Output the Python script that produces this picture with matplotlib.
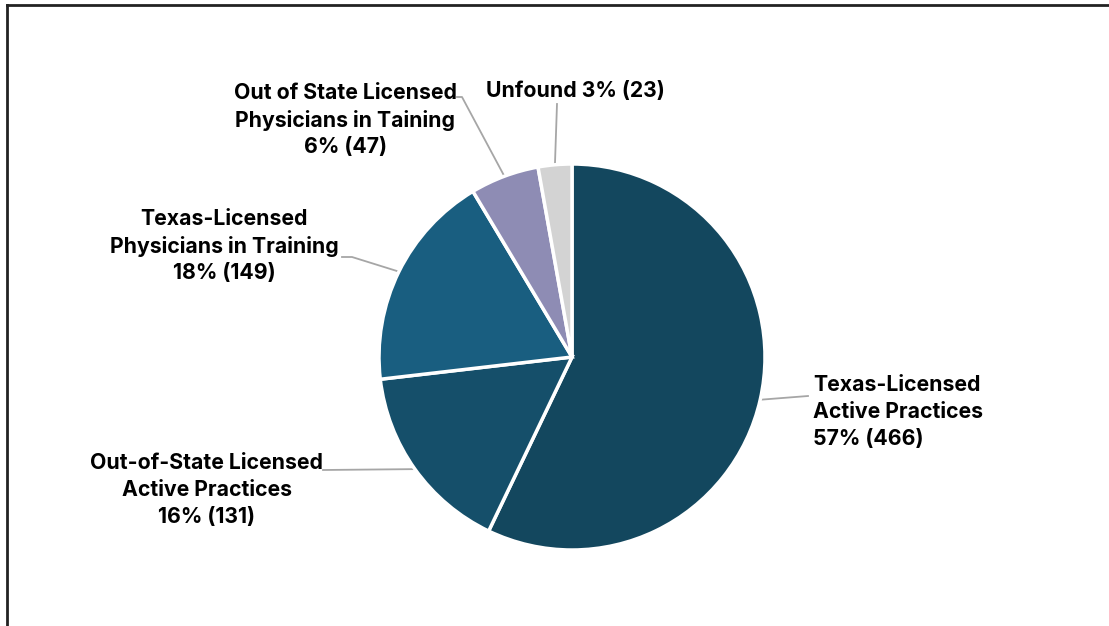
import numpy as np
import matplotlib.pyplot as plt
from matplotlib.lines import Line2D

plt.rcParams['font.family'] = ['Inter', 'DejaVu Sans']

W, H = 1109, 626

labels = [
    "Texas-Licensed\nActive Practices",
    "Out-of-State Licensed\nActive Practices",
    "Texas-Licensed\nPhysicians in Training",
    "Out of State Licensed\nPhysicians in Taining",
    "Unfound",
]
counts = [466, 131, 149, 47, 23]
pcts = [57, 16, 18, 6, 3]
colors = ["#13475E", "#154F6A", "#195E80", "#8E8CB4", "#D3D3D3"]

# label anchor (pixel coords from top-left), alignment, elbow points of leader
label_pos = [(813, 412, "left"), (207, 490, "center"), (224, 246, "center"),
             (345, 120, "center"), (575, 91, "center")]
elbows = [[(808, 396)], [(323, 470)], [(352, 257), (342, 257)],
          [(462, 97), (457, 97)], [(557, 104)]]

cx, cy, r = 572, 357, 193

fig = plt.figure(figsize=(W / 100, H / 100), dpi=100)
ax = fig.add_axes([0, 0, 1, 1])

wedges, _ = ax.pie(counts, colors=colors, startangle=90, counterclock=False,
                   center=(cx, H - cy), radius=r, frame=True,
                   wedgeprops=dict(edgecolor="white", linewidth=2.5))
ax.set_xlim(0, W)
ax.set_ylim(0, H)
ax.axis("off")

for i, w in enumerate(wedges):
    mid = np.deg2rad((w.theta1 + w.theta2) / 2)
    px = cx + r * np.cos(mid)
    py = (H - cy) + r * np.sin(mid)
    pts = [(px, py)] + [(x, H - y) for x, y in elbows[i]]
    xs, ys = zip(*pts)
    ax.plot(xs, ys, color="#A6A6A6", lw=1.3, zorder=0)

    tx, ty, ha = label_pos[i]
    if i == 4:
        txt = f"{labels[i]} {pcts[i]}% ({counts[i]})"
    else:
        txt = f"{labels[i]}\n{pcts[i]}% ({counts[i]})"
    ax.text(tx, H - ty, txt, ha=ha, va="center", multialignment=ha,
            fontsize=15.3, fontweight="bold", color="black", linespacing=1.42)

# partial frame (left and top edges)
fig.add_artist(Line2D([7 / W, 7 / W], [0, 1 - 5 / H], color="#222222", lw=2))
fig.add_artist(Line2D([7 / W, 1], [1 - 5 / H, 1 - 5 / H], color="#222222", lw=2))

fig.savefig("out.png", dpi=100)
